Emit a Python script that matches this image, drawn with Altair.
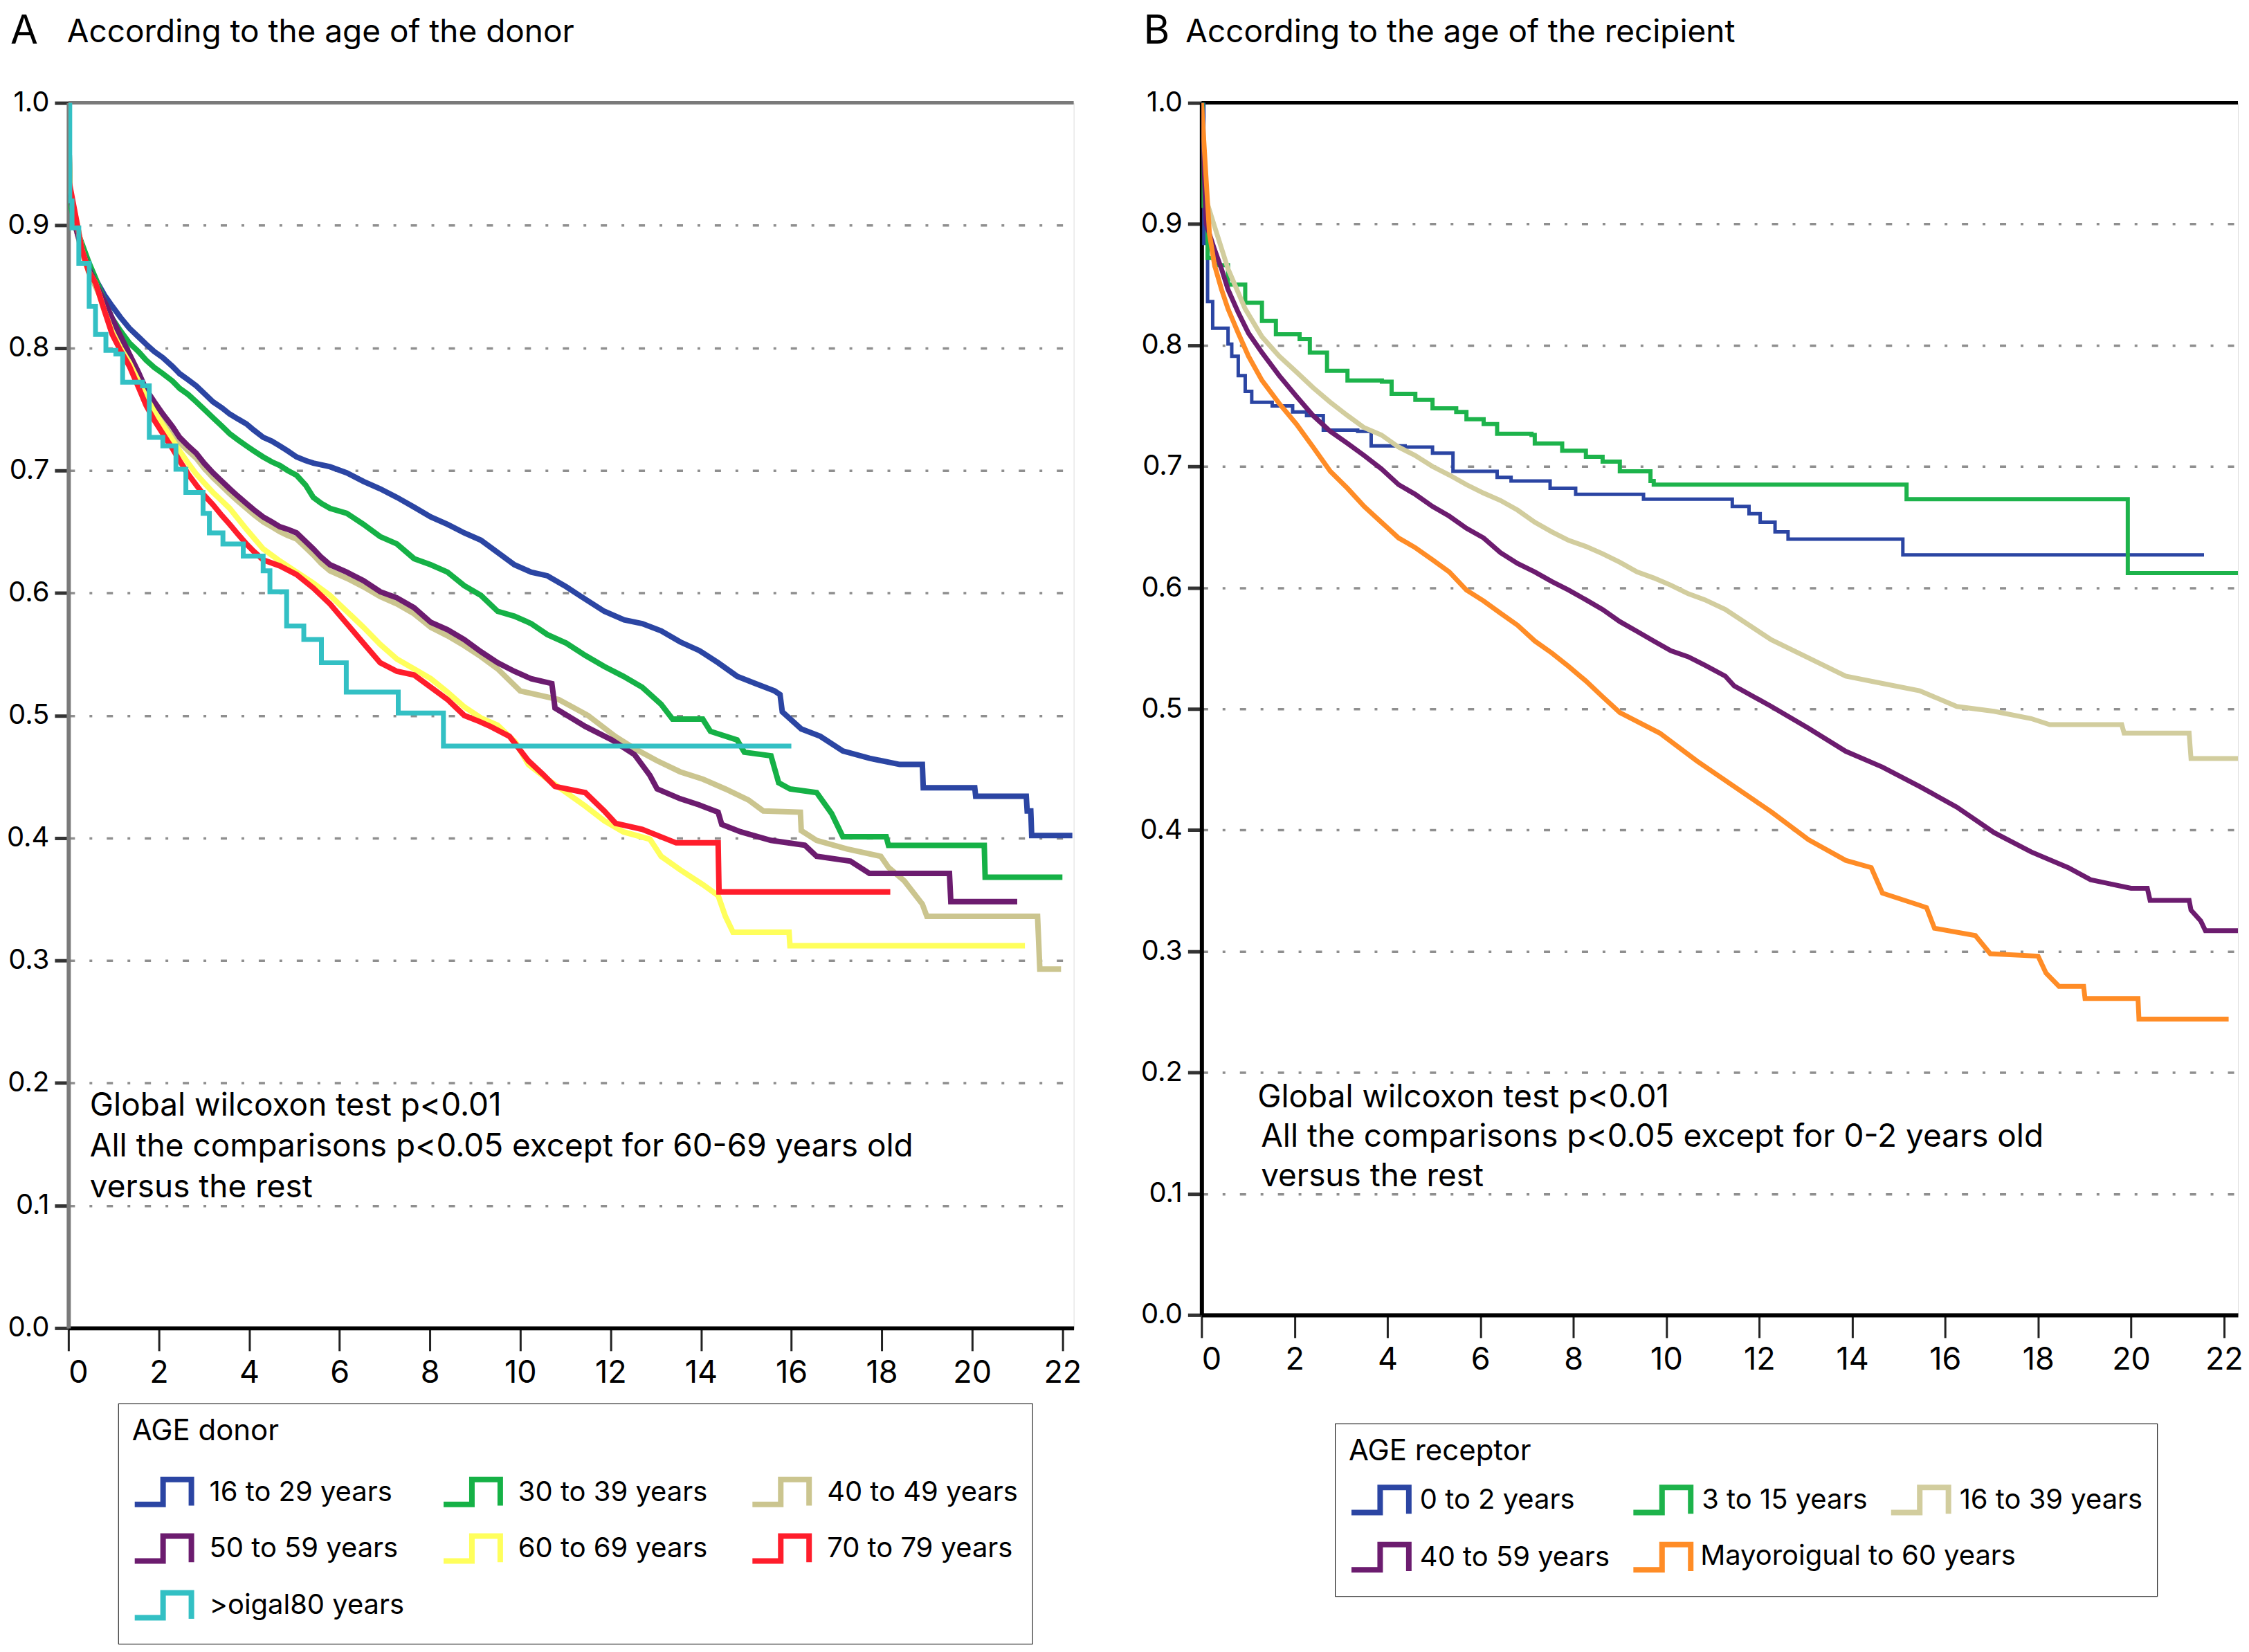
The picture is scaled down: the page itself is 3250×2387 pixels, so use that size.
import altair as alt
import pandas as pd

FONT = "Inter"

# ---------------- Panel A: age of the donor ----------------
A_groups = ["16 to 29 years", "30 to 39 years", "40 to 49 years", "50 to 59 years",
            "60 to 69 years", "70 to 79 years", ">oigal80 years"]
A_colors = ["#2b45a3", "#15b146", "#cbc58f", "#6c1c6f", "#ffff5c", "#ff1d2b", "#33c0c4"]
A_interp = ["linear", "linear", "linear", "linear", "linear", "linear", "step-after"]
A_width = [8, 8, 8, 8, 8, 8, 7]

A_t = {}
A_s = {}
A_t["16 to 29 years"] = [0, 0.03, 0.15, 0.3, 0.45, 0.6, 0.8, 0.97, 1.15, 1.35, 1.55, 1.72, 1.9, 2.09, 2.3, 2.46,
                         2.65, 2.83, 3.0, 3.2, 3.4, 3.57, 3.75, 3.94, 4.1, 4.31, 4.5, 4.68, 4.85, 5.05, 5.25, 5.42,
                         5.79, 6.16, 6.53, 6.9, 7.27, 7.65, 8.02, 8.39, 8.76, 9.13, 9.5, 9.87, 10.24, 10.6, 11.02,
                         11.35, 11.86, 12.3, 12.7, 13.12, 13.54, 13.96, 14.38, 14.8, 15.21, 15.63, 15.75, 15.8,
                         16.22, 16.64, 17.14, 17.73, 18.4, 18.9, 18.92, 20.06, 20.08, 21.2, 21.22, 21.3, 21.32, 22.22]
A_s["16 to 29 years"] = [1.0, 0.93, 0.90, 0.88, 0.866, 0.856, 0.843, 0.834, 0.825, 0.816, 0.809, 0.803, 0.797, 0.792,
                         0.785, 0.779, 0.774, 0.769, 0.763, 0.756, 0.751, 0.746, 0.742, 0.738, 0.733, 0.727, 0.724,
                         0.720, 0.716, 0.711, 0.708, 0.706, 0.703, 0.698, 0.691, 0.685, 0.678, 0.670, 0.662, 0.656,
                         0.649, 0.643, 0.633, 0.623, 0.617, 0.614, 0.605, 0.597, 0.585, 0.578, 0.575, 0.569, 0.560,
                         0.553, 0.543, 0.532, 0.526, 0.520, 0.517, 0.503, 0.489, 0.483, 0.471, 0.465, 0.460, 0.460,
                         0.441, 0.441, 0.434, 0.434, 0.422, 0.422, 0.402, 0.402]
A_t["30 to 39 years"] = [0, 0.03, 0.15, 0.3, 0.45, 0.6, 0.8, 0.97, 1.15, 1.35, 1.55, 1.72, 1.9, 2.09, 2.3, 2.46,
                         2.65, 2.83, 3.0, 3.2, 3.4, 3.57, 3.75, 3.94, 4.1, 4.31, 4.5, 4.68, 4.85, 5.05, 5.25, 5.42,
                         5.6, 5.79, 6.16, 6.53, 6.9, 7.27, 7.65, 8.02, 8.39, 8.76, 9.13, 9.5, 9.87, 10.24, 10.6,
                         11.02, 11.44, 11.86, 12.28, 12.7, 13.12, 13.37, 14.04, 14.21, 14.8, 14.96, 15.55, 15.72,
                         15.97, 16.56, 16.89, 17.14, 18.1, 18.15, 20.27, 20.29, 22.0]
A_s["30 to 39 years"] = [1.0, 0.92, 0.90, 0.885, 0.87, 0.857, 0.838, 0.824, 0.814, 0.804, 0.797, 0.790, 0.784, 0.779,
                         0.773, 0.767, 0.762, 0.756, 0.750, 0.743, 0.736, 0.730, 0.725, 0.720, 0.716, 0.711, 0.707,
                         0.704, 0.700, 0.696, 0.688, 0.678, 0.673, 0.669, 0.665, 0.656, 0.646, 0.640, 0.628, 0.623,
                         0.617, 0.606, 0.598, 0.585, 0.581, 0.575, 0.566, 0.559, 0.549, 0.540, 0.532, 0.523, 0.509,
                         0.497, 0.497, 0.487, 0.480, 0.470, 0.467, 0.445, 0.440, 0.437, 0.420, 0.401, 0.401, 0.394,
                         0.394, 0.368, 0.368]
A_t["40 to 49 years"] = [0, 0.03, 0.15, 0.3, 0.45, 0.6, 0.8, 0.97, 1.15, 1.35, 1.55, 1.72, 1.9, 2.09, 2.3, 2.46,
                         2.65, 2.83, 3.0, 3.2, 3.4, 3.57, 3.75, 3.94, 4.1, 4.31, 4.5, 4.68, 4.85, 5.05, 5.25, 5.42,
                         5.6, 5.79, 6.16, 6.53, 6.9, 7.27, 7.65, 8.02, 8.39, 8.76, 9.13, 9.5, 10.0, 10.85, 11.5,
                         12.1, 12.53, 13.03, 13.54, 14.04, 14.54, 15.05, 15.38, 16.2, 16.22, 16.56, 17.23, 17.98,
                         18.15, 18.5, 18.9, 19.0, 21.45, 21.5, 21.97]
A_s["40 to 49 years"] = [1.0, 0.93, 0.90, 0.878, 0.862, 0.850, 0.835, 0.821, 0.807, 0.792, 0.777, 0.763, 0.752,
                         0.742, 0.732, 0.723, 0.716, 0.710, 0.702, 0.694, 0.687, 0.681, 0.675, 0.669, 0.664, 0.658,
                         0.654, 0.650, 0.647, 0.644, 0.637, 0.631, 0.624, 0.618, 0.612, 0.605, 0.597, 0.591, 0.583,
                         0.572, 0.565, 0.557, 0.548, 0.538, 0.520, 0.513, 0.500, 0.483, 0.473, 0.463, 0.454, 0.448,
                         0.440, 0.431, 0.422, 0.421, 0.406, 0.398, 0.391, 0.385, 0.376, 0.365, 0.346, 0.336, 0.336,
                         0.293, 0.293]
A_t["50 to 59 years"] = [0, 0.03, 0.15, 0.3, 0.45, 0.6, 0.8, 0.97, 1.15, 1.35, 1.55, 1.72, 1.9, 2.09, 2.3, 2.46,
                         2.65, 2.83, 3.0, 3.2, 3.4, 3.57, 3.75, 3.94, 4.1, 4.31, 4.5, 4.68, 4.85, 5.05, 5.25, 5.42,
                         5.6, 5.79, 6.16, 6.53, 6.9, 7.27, 7.65, 8.02, 8.39, 8.76, 9.13, 9.5, 9.87, 10.24, 10.7,
                         10.77, 11.44, 12.03, 12.53, 12.87, 13.03, 13.54, 13.96, 14.38, 14.46, 14.88, 15.55, 16.3,
                         16.56, 17.31, 17.73, 19.5, 19.53, 21.0]
A_s["50 to 59 years"] = [1.0, 0.93, 0.90, 0.88, 0.865, 0.853, 0.838, 0.824, 0.810, 0.795, 0.780, 0.766, 0.756, 0.746,
                         0.736, 0.727, 0.720, 0.714, 0.706, 0.698, 0.691, 0.685, 0.679, 0.673, 0.668, 0.662, 0.658,
                         0.654, 0.652, 0.649, 0.642, 0.636, 0.629, 0.623, 0.617, 0.610, 0.601, 0.596, 0.588, 0.576,
                         0.570, 0.562, 0.552, 0.543, 0.536, 0.530, 0.526, 0.506, 0.491, 0.480, 0.468, 0.451, 0.440,
                         0.432, 0.427, 0.421, 0.411, 0.405, 0.398, 0.394, 0.385, 0.381, 0.371, 0.371, 0.348, 0.348]
A_t["60 to 69 years"] = [0, 0.03, 0.2, 0.3, 0.45, 0.6, 0.8, 0.97, 1.15, 1.35, 1.55, 1.72, 1.9, 2.09, 2.3, 2.46,
                         2.65, 2.83, 3.0, 3.2, 3.4, 3.57, 3.94, 4.31, 4.68, 5.05, 5.42, 5.79, 6.16, 6.53, 6.9, 7.27,
                         7.65, 8.02, 8.39, 8.76, 9.13, 9.5, 9.9, 10.18, 10.6, 11.02, 11.44, 11.86, 12.28, 12.87,
                         13.12, 13.54, 14.04, 14.38, 14.54, 14.71, 15.95, 15.97, 21.17]
A_s["60 to 69 years"] = [1.0, 0.93, 0.90, 0.88, 0.862, 0.853, 0.830, 0.813, 0.800, 0.788, 0.773, 0.760, 0.748, 0.737,
                         0.725, 0.716, 0.706, 0.697, 0.690, 0.682, 0.675, 0.669, 0.652, 0.636, 0.626, 0.617, 0.608,
                         0.598, 0.585, 0.572, 0.558, 0.546, 0.538, 0.530, 0.519, 0.507, 0.498, 0.492, 0.478, 0.460,
                         0.448, 0.437, 0.426, 0.414, 0.405, 0.399, 0.385, 0.374, 0.362, 0.353, 0.336, 0.323, 0.323,
                         0.312, 0.312]
A_t["70 to 79 years"] = [0, 0.02, 0.2, 0.3, 0.45, 0.6, 0.8, 0.97, 1.15, 1.35, 1.55, 1.72, 1.9, 2.09, 2.3, 2.46,
                         2.65, 2.83, 3.0, 3.2, 3.4, 3.57, 3.75, 3.94, 4.1, 4.31, 4.68, 5.05, 5.42, 5.79, 6.16, 6.53,
                         6.9, 7.27, 7.65, 8.02, 8.39, 8.76, 9.1, 9.34, 9.76, 10.18, 10.5, 10.77, 11.44, 11.86,
                         12.11, 12.7, 13.45, 14.38, 14.4, 18.19]
A_s["70 to 79 years"] = [1.0, 0.935, 0.90, 0.88, 0.862, 0.853, 0.830, 0.811, 0.798, 0.785, 0.768, 0.753, 0.741,
                         0.730, 0.718, 0.708, 0.697, 0.688, 0.680, 0.672, 0.663, 0.656, 0.648, 0.640, 0.634, 0.627,
                         0.622, 0.615, 0.604, 0.591, 0.575, 0.559, 0.543, 0.536, 0.533, 0.523, 0.513, 0.500, 0.495,
                         0.491, 0.483, 0.463, 0.452, 0.442, 0.437, 0.422, 0.412, 0.407, 0.396, 0.396, 0.356, 0.356]
A_t[">oigal80 years"] = [0, 0.03, 0.08, 0.23, 0.46, 0.6, 0.83, 1.05, 1.2, 1.64, 1.79, 2.09, 2.38, 2.6, 2.98, 3.12,
                         3.42, 3.87, 4.31, 4.46, 4.83, 5.21, 5.6, 6.15, 7.3, 8.3, 16.0]
A_s[">oigal80 years"] = [1.0, 0.92, 0.898, 0.869, 0.834, 0.811, 0.798, 0.795, 0.772, 0.769, 0.727, 0.720, 0.701,
                         0.682, 0.665, 0.649, 0.640, 0.630, 0.618, 0.601, 0.573, 0.562, 0.543, 0.519, 0.502, 0.475,
                         0.475]

# ---------------- Panel B: age of the recipient ----------------
B_groups = ["0 to 2 years", "3 to 15 years", "16 to 39 years", "40 to 59 years", "Mayoroigual to 60 years"]
B_colors = ["#2b45a3", "#1db34b", "#d2cd9e", "#6c1c6f", "#ff8c26"]
B_interp = ["step-after", "step-after", "linear", "linear", "linear"]
B_width = [5, 6, 7, 7, 7]

B_t = {}
B_s = {}
B_t["0 to 2 years"] = [0, 0.05, 0.13, 0.24, 0.57, 0.65, 0.79, 0.94, 1.08, 1.52, 1.96, 2.26, 2.62, 3.36, 3.65, 4.38,
                       4.97, 5.41, 6.36, 6.66, 7.5, 8.05, 9.51, 11.42, 11.78, 12.02, 12.34, 12.62, 15.09, 21.57]
B_s["0 to 2 years"] = [1.0, 0.884, 0.836, 0.814, 0.801, 0.791, 0.775, 0.762, 0.753, 0.750, 0.745, 0.742, 0.730,
                       0.729, 0.717, 0.716, 0.711, 0.696, 0.691, 0.688, 0.682, 0.677, 0.673, 0.667, 0.661, 0.654,
                       0.646, 0.640, 0.627, 0.627]
B_t["3 to 15 years"] = [0, 0.02, 0.13, 0.28, 0.57, 0.94, 1.3, 1.6, 2.11, 2.33, 2.7, 3.14, 3.88, 4.09, 4.6, 4.97,
                        5.48, 5.7, 6.07, 6.36, 7.1, 7.17, 7.76, 8.27, 8.63, 9.0, 9.66, 9.73, 15.17, 19.93, 22.3]
B_s["3 to 15 years"] = [1.0, 0.915, 0.872, 0.866, 0.850, 0.835, 0.820, 0.809, 0.805, 0.794, 0.779, 0.771, 0.770,
                        0.760, 0.755, 0.748, 0.745, 0.739, 0.735, 0.727, 0.726, 0.719, 0.713, 0.708, 0.704, 0.696,
                        0.688, 0.685, 0.673, 0.612, 0.612]
B_t["16 to 39 years"] = [0, 0.1, 0.28, 0.57, 0.94, 1.3, 1.67, 2.04, 2.4, 2.77, 3.14, 3.5, 3.87, 4.24, 4.6, 4.97,
                         5.33, 5.7, 6.07, 6.43, 6.8, 7.17, 7.54, 7.9, 8.27, 8.63, 9.0, 9.37, 9.73, 10.1, 10.47,
                         10.83, 11.27, 12.26, 13.06, 13.86, 14.65, 15.45, 16.25, 17.05, 17.85, 18.25, 19.8, 19.85,
                         21.25, 21.29, 22.3]
B_s["16 to 39 years"] = [1.0, 0.92, 0.898, 0.863, 0.830, 0.807, 0.791, 0.778, 0.765, 0.753, 0.742, 0.732, 0.726,
                         0.716, 0.709, 0.700, 0.693, 0.685, 0.678, 0.672, 0.664, 0.654, 0.646, 0.639, 0.634, 0.628,
                         0.621, 0.613, 0.608, 0.602, 0.595, 0.590, 0.582, 0.557, 0.542, 0.527, 0.521, 0.515, 0.502,
                         0.498, 0.492, 0.487, 0.487, 0.480, 0.480, 0.459, 0.459]
B_t["40 to 59 years"] = [0, 0.1, 0.28, 0.43, 0.57, 0.79, 1.01, 1.3, 1.67, 2.04, 2.4, 2.77, 3.14, 3.5, 3.87, 4.24,
                         4.6, 4.97, 5.33, 5.7, 6.07, 6.43, 6.8, 7.17, 7.54, 7.9, 8.27, 8.63, 9.0, 9.37, 9.73, 10.1,
                         10.47, 10.83, 11.27, 11.46, 12.26, 13.06, 13.86, 14.65, 15.45, 16.25, 17.05, 17.85, 18.65,
                         19.13, 20.0, 20.35, 20.41, 21.25, 21.29, 21.5, 21.6, 22.3]
B_s["40 to 59 years"] = [1.0, 0.90, 0.879, 0.863, 0.846, 0.827, 0.810, 0.794, 0.775, 0.758, 0.742, 0.729, 0.719,
                         0.709, 0.698, 0.685, 0.677, 0.667, 0.659, 0.649, 0.641, 0.629, 0.620, 0.613, 0.605, 0.598,
                         0.590, 0.582, 0.572, 0.564, 0.556, 0.548, 0.543, 0.536, 0.527, 0.519, 0.502, 0.484, 0.465,
                         0.452, 0.436, 0.419, 0.398, 0.382, 0.369, 0.359, 0.352, 0.352, 0.342, 0.342, 0.334, 0.325,
                         0.317, 0.317]
B_t["Mayoroigual to 60 years"] = [0, 0.17, 0.28, 0.43, 0.57, 0.79, 1.01, 1.3, 1.67, 2.04, 2.4, 2.77, 3.14, 3.5,
                                  3.87, 4.24, 4.6, 4.97, 5.33, 5.7, 6.07, 6.43, 6.8, 7.17, 7.54, 7.9, 8.27, 8.63,
                                  9.0, 9.86, 10.66, 11.46, 12.26, 13.06, 13.86, 14.41, 14.65, 15.45, 15.6, 15.77,
                                  16.65, 16.97, 18.0, 18.17, 18.45, 18.98, 19.01, 20.15, 20.17, 22.1]
B_s["Mayoroigual to 60 years"] = [1.0, 0.892, 0.866, 0.846, 0.830, 0.810, 0.791, 0.771, 0.752, 0.735, 0.716, 0.696,
                                  0.682, 0.667, 0.654, 0.641, 0.633, 0.623, 0.613, 0.598, 0.589, 0.579, 0.569,
                                  0.556, 0.546, 0.535, 0.523, 0.510, 0.497, 0.480, 0.457, 0.436, 0.415, 0.392,
                                  0.375, 0.369, 0.348, 0.338, 0.336, 0.319, 0.313, 0.298, 0.296, 0.282, 0.271,
                                  0.271, 0.261, 0.261, 0.244, 0.244]

Y_TICKS = [round(i * 0.1, 1) for i in range(11)]
X_TICKS = list(range(0, 23, 2))

A_NOTE_1 = "Global wilcoxon test p<0.01"
A_NOTE_2 = "All the comparisons p<0.05 except for 60-69 years old\nversus the rest"
B_NOTE_1 = "Global wilcoxon test p<0.01"
B_NOTE_2 = "All the comparisons p<0.05 except for 0-2 years old\nversus the rest"

STEP_SYMBOL = "M-1,0.42 L0,0.42 L0,-0.46 L1,-0.46 L1,0.46"
LEG_FONT = 40


def frame(groups, tdict, sdict):
    rows = []
    for g in groups:
        for i, (t, s) in enumerate(zip(tdict[g], sdict[g])):
            rows.append({"group": g, "i": i, "t": t, "s": s})
    return pd.DataFrame(rows)


def panel(df, groups, colors, widths, interps, xmax, w, h, legend, frame_col, left_col,
          letter, title, title_x, note1, note2, note1_x, note2_x, note_y, line_h, extra_label=None):
    x = alt.X("t:Q", scale=alt.Scale(domain=[0, xmax], nice=False, zero=False),
              axis=alt.Axis(values=X_TICKS, title=None, grid=False, tickSize=33, tickWidth=3,
                            tickColor="#222222", labelFontSize=45, labelPadding=10, labelColor="black",
                            domainColor="black", domainWidth=6, labelFont=FONT))
    y = alt.Y("s:Q", scale=alt.Scale(domain=[0, 1], nice=False),
              axis=alt.Axis(values=Y_TICKS, format=".1f", title=None, grid=True, gridDash=[9, 21, 4, 21],
                            gridColor="#8f8f8f", gridWidth=3.5, tickSize=20, tickWidth=5, tickColor="#333333",
                            labelFontSize=40, labelPadding=8, labelColor="black", domainColor=left_col,
                            domainWidth=6, labelFont=FONT))
    color = alt.Color("group:N", scale=alt.Scale(domain=groups, range=colors), legend=legend)

    layers = []
    top = alt.Chart(pd.DataFrame({"k": [0]})).mark_rule(color=frame_col, strokeWidth=5).encode(
        y=alt.value(0))
    layers.append(top)
    for g, lw, ip in zip(groups, widths, interps):
        layers.append(
            alt.Chart(df).transform_filter(alt.datum.group == g)
            .mark_line(interpolate=ip, strokeWidth=lw, clip=True)
            .encode(x=x, y=y, color=color, order="i:Q")
        )
    txt = pd.DataFrame({"letter": [letter], "title": [title], "n1": [note1], "n2": [note2]})
    layers.append(alt.Chart(txt).mark_text(align="left", baseline="alphabetic", fontSize=58, font=FONT,
                                           color="black").encode(text="letter:N", x=alt.value(-84),
                                                                 y=alt.value(-86)))
    layers.append(alt.Chart(txt).mark_text(align="left", baseline="alphabetic", fontSize=46, font=FONT,
                                           color="black").encode(text="title:N", x=alt.value(title_x),
                                                                 y=alt.value(-88)))
    layers.append(alt.Chart(txt).mark_text(align="left", baseline="alphabetic", fontSize=46, font=FONT,
                                           color="black").encode(text="n1:N", x=alt.value(note1_x),
                                                                 y=alt.value(note_y)))
    layers.append(alt.Chart(txt).mark_text(align="left", baseline="alphabetic", fontSize=46, font=FONT,
                                           color="black", lineBreak="\n", lineHeight=line_h)
                  .encode(text="n2:N", x=alt.value(note2_x), y=alt.value(note_y + line_h)))
    if extra_label is not None:
        lab, lx, ly = extra_label
        layers.append(alt.Chart(pd.DataFrame({"lab": [lab]})).mark_text(
            align="left", baseline="middle", fontSize=LEG_FONT, font=FONT, color="black")
            .encode(text="lab:N", x=alt.value(lx), y=alt.value(ly)))
    return alt.layer(*layers).properties(width=w, height=h)


legend_A = alt.Legend(title="AGE donor", orient="none", legendX=72, legendY=1882, columns=3,
                      direction="horizontal",
                      symbolType=STEP_SYMBOL, symbolSize=6724, symbolStrokeWidth=8,
                      symbolFillColor="transparent", labelFontSize=LEG_FONT, labelFont=FONT, labelLimit=2000,
                      titleFontSize=42, titleFont=FONT, titleFontWeight="normal", titleColor="black",
                      titleLimit=2000, labelColor="black", padding=20, strokeColor="black",
                      columnPadding=40, rowPadding=2, labelOffset=22, titlePadding=22,
                      gridAlign="all")

B_LAST = B_groups[4]
legend_B = alt.Legend(title="AGE receptor", orient="none", legendX=193, legendY=1911, columns=3,
                      direction="horizontal",
                      symbolType=STEP_SYMBOL, symbolSize=6889, symbolStrokeWidth=8,
                      symbolFillColor="transparent", labelFontSize=LEG_FONT, labelFont=FONT, labelLimit=2000,
                      titleFontSize=42, titleFont=FONT, titleFontWeight="normal", titleColor="black",
                      titleLimit=2000, labelColor="black", padding=20, strokeColor="black",
                      columnPadding=18, rowPadding=2, labelOffset=12, titlePadding=4,
                      gridAlign="each",
                      labelExpr="datum.label == '" + B_LAST + "' ? '' : datum.label")

dfA = frame(A_groups, A_t, A_s)
dfB = frame(B_groups, B_t, B_s)

pA = panel(dfA, A_groups, A_colors, A_width, A_interp, 22.25, 1455, 1773, legend_A, "#7a7a7a", "#7a7a7a",
           "A", "According to the age of the donor", -2, A_NOTE_1, A_NOTE_2, 31, 31, 1466, 59)
pB = panel(dfB, B_groups, B_colors, B_width, B_interp, 22.3, 1500, 1754, legend_B, "black", "black",
           "B", "According to the age of the recipient", -23, B_NOTE_1, B_NOTE_2, 81, 86, 1454, 57,
           extra_label=(B_LAST, 722, 2104))

chart = (
    alt.hconcat(pA, pB, spacing=82)
    .resolve_scale(color="independent")
    .properties(padding={"left": 0, "top": 6, "right": 0, "bottom": 0})
    .configure_view(fill="#f5f5f5", stroke="#9a9a9a", strokeWidth=3)
    .configure_legend(strokeWidth=3)
    .configure(background="white")
)

chart.save("out.html", embed_options={"renderer": "svg", "actions": False})
